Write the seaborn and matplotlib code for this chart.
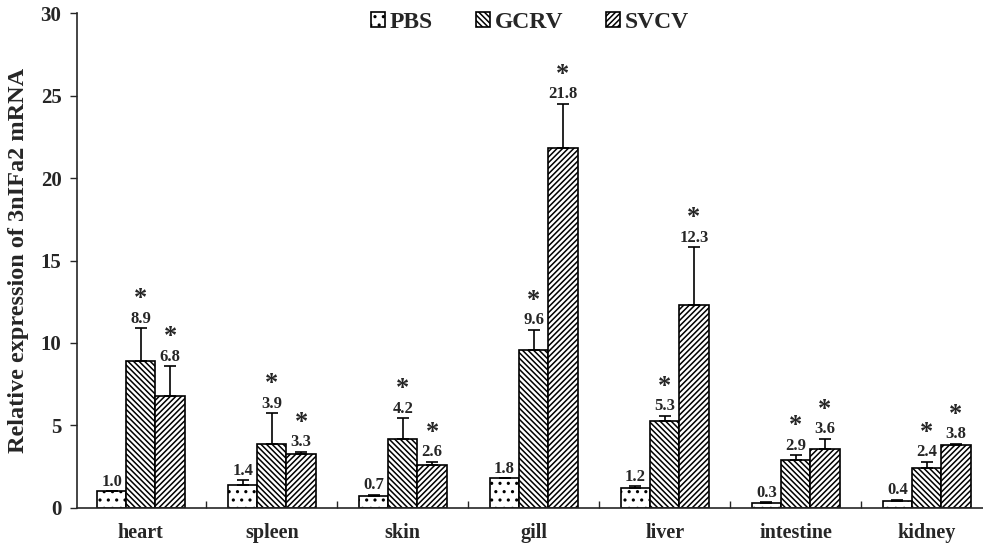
import pandas as pd
import seaborn as sns
import matplotlib.pyplot as plt

tissues = ["heart", "spleen", "skin", "gill", "liver", "intestine", "kidney"]
groups = ["PBS", "GCRV", "SVCV"]
pbs = [1.0, 1.4, 0.7, 1.8, 1.2, 0.3, 0.4]
gcrv = [8.9, 3.9, 4.2, 9.6, 5.3, 2.9, 2.4]
svcv = [6.8, 3.3, 2.6, 21.8, 12.3, 3.6, 3.8]
pbs_err = [0.0, 0.3, 0.1, 0.0, 0.1, 0.05, 0.1]
gcrv_err = [2.0, 1.85, 1.25, 1.2, 0.3, 0.3, 0.4]
svcv_err = [1.8, 0.1, 0.2, 2.7, 3.5, 0.6, 0.1]
signif = [False, True, True]

hatches = ["..", "\\\\\\\\\\\\", "//////"]

df = pd.DataFrame({
    "tissue": tissues * 3,
    "group": [g for g in groups for _ in tissues],
    "value": pbs + gcrv + svcv,
})
errs = [pbs_err, gcrv_err, svcv_err]
vals = [pbs, gcrv, svcv]

sns.set_style("ticks")
plt.rcParams["font.family"] = ["Liberation Serif", "DejaVu Serif"]
plt.rcParams["font.weight"] = "bold"
plt.rcParams["hatch.linewidth"] = 1.1

fig = plt.figure(figsize=(9.83, 5.45), dpi=100)
ax = fig.add_axes([0.078, 0.068, 0.922, 0.908])

sns.barplot(data=df, x="tissue", y="value", hue="group", order=tissues,
            hue_order=groups, errorbar=None, width=0.67,
            palette=["white"] * 3, edgecolor="black", linewidth=1.2,
            saturation=1, ax=ax)

bar_containers = list(ax.containers)
for i, cont in enumerate(bar_containers):
    xs = []
    for p in cont.patches:
        p.set_hatch(hatches[i])
        p.set_edgecolor("black")
        p.set_facecolor("white")
        xs.append(p.get_x() + p.get_width() / 2)
    ax.errorbar(xs, vals[i], yerr=[[0] * len(xs), errs[i]], fmt="none",
                ecolor="black", elinewidth=1.2, capsize=4, capthick=1.2)
    for x, v, e in zip(xs, vals[i], errs[i]):
        ax.annotate(f"{v:.1f}", (x, v + e), xytext=(0, 1),
                    textcoords="offset points", ha="center", va="bottom",
                    fontsize=12, fontweight="bold")
        if signif[i]:
            ax.annotate("*", (x, v + e), xytext=(0, 13),
                        textcoords="offset points", ha="center", va="bottom",
                        fontsize=19, fontweight="bold")

ax.set_xlim(-0.49, 6.43)
ax.set_ylim(0, 30)
ax.set_yticks(range(0, 31, 5))
ax.set_xlabel("")
ax.set_ylabel("Relative expression of 3nIFa2 mRNA", fontsize=17.5,
              fontweight="bold", labelpad=8)
ax.set_xticks(range(len(tissues)))
ax.set_xticklabels(tissues, fontsize=14.5, fontweight="bold")
ax.tick_params(axis="x", length=0, pad=11)
ax.set_xticks([i + 0.5 for i in range(len(tissues) - 1)], minor=True)
ax.tick_params(axis="x", which="minor", direction="in", length=5, width=1)
ax.tick_params(axis="y", direction="out", length=5, width=1, labelsize=15,
               pad=6)
for t in ax.get_yticklabels():
    t.set_fontweight("bold")
for s in ["top", "right"]:
    ax.spines[s].set_visible(False)
for s in ["left", "bottom"]:
    ax.spines[s].set_linewidth(1.2)

leg = ax.legend(loc="upper center", bbox_to_anchor=(0.5, 1.045), ncol=3,
                frameon=False, handlelength=0.6, handleheight=0.6,
                handletextpad=0.2, columnspacing=1.8,
                prop={"size": 17, "weight": "bold"})
for h, hat in zip(leg.legend_handles, hatches):
    h.set_hatch(hat)
    h.set_edgecolor("black")
    h.set_facecolor("white")

fig.savefig("out.png", dpi=100)
